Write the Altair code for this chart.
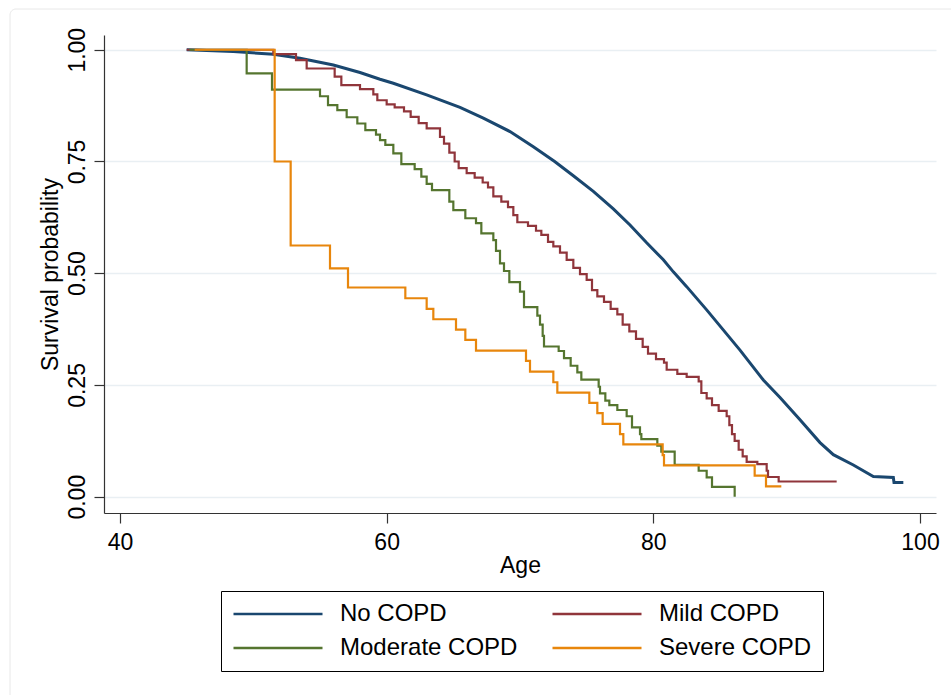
import altair as alt
import pandas as pd

# Kaplan-Meier survival by COPD severity
groups = ["No COPD", "Mild COPD", "Moderate COPD", "Severe COPD"]
colors = ["#1a476f", "#90353b", "#55752f", "#e8860c"]

# No COPD: many small steps, drawn as a smooth curve
no_age = [45.0, 48.5, 51.5, 53.5, 56.0, 58.0, 59.5, 60.5, 63.0, 65.5, 67.25,
          69.25, 71.0, 72.6, 74.0, 75.5, 77.0, 78.25, 79.5, 80.75, 81.5, 82.5,
          84.0, 86.5, 88.25, 89.5, 91.0, 92.5, 93.5, 95.0, 96.5, 98.0, 98.05, 98.75]
no_surv = [1.000, 0.996, 0.990, 0.981, 0.966, 0.949, 0.934, 0.925, 0.899, 0.871, 0.847,
           0.817, 0.783, 0.750, 0.718, 0.683, 0.644, 0.608, 0.568, 0.530, 0.503, 0.470,
           0.418, 0.328, 0.261, 0.222, 0.172, 0.121, 0.094, 0.071, 0.045, 0.043, 0.032, 0.032]

# Mild COPD step function
mild_age = [45.0, 51.5, 53.2, 54.0, 56.1, 56.6, 58.0, 59.0, 59.3, 60.0, 60.6,
            61.3, 61.8, 62.4, 63.0, 64.0, 64.3, 64.7, 65.1, 65.4, 66.0, 66.6,
            67.2, 67.6, 68.0, 68.6, 69.1, 69.5, 69.8, 70.6, 71.2, 71.6, 72.1,
            72.5, 73.0, 73.5, 74.0, 74.5, 75.0, 75.4, 75.8, 76.3, 76.8, 77.3,
            77.7, 78.2, 78.7, 79.2, 79.6, 80.2, 80.8, 81.0, 81.8, 82.5, 83.4,
            83.6, 84.0, 84.4, 84.9, 85.5, 85.7, 85.9, 86.1, 86.4, 86.7, 87.0,
            87.8, 88.5, 88.6, 89.4, 93.75]
mild_surv = [1.000, 0.990, 0.977, 0.958, 0.940, 0.921, 0.912, 0.900, 0.887, 0.878, 0.871,
             0.862, 0.850, 0.836, 0.824, 0.805, 0.790, 0.770, 0.750, 0.735, 0.724, 0.714,
             0.703, 0.692, 0.672, 0.660, 0.648, 0.630, 0.614, 0.606, 0.595, 0.586, 0.570,
             0.560, 0.546, 0.530, 0.512, 0.498, 0.485, 0.462, 0.448, 0.436, 0.420, 0.408,
             0.385, 0.370, 0.353, 0.335, 0.320, 0.308, 0.300, 0.284, 0.275, 0.268, 0.258,
             0.232, 0.220, 0.205, 0.192, 0.180, 0.160, 0.140, 0.125, 0.105, 0.090, 0.078,
             0.073, 0.058, 0.044, 0.034, 0.034]

# Moderate COPD step function
mod_age = [45.2, 49.5, 51.4, 55.0, 55.6, 56.3, 57.0, 57.8, 58.4, 59.2, 59.5,
           59.9, 60.5, 61.1, 62.1, 62.6, 63.0, 63.4, 64.7, 65.0, 65.9, 66.7,
           67.1, 68.0, 68.2, 68.5, 68.8, 69.2, 70.0, 70.3, 71.3, 71.5, 71.7,
           71.8, 72.9, 73.3, 73.8, 74.3, 74.6, 75.9, 76.0, 76.4, 76.7, 77.3,
           78.0, 78.4, 79.0, 79.1, 80.3, 80.6, 81.6, 83.4, 84.0, 84.4, 86.1]
mod_surv = [1.000, 0.947, 0.911, 0.896, 0.876, 0.865, 0.849, 0.835, 0.820, 0.810, 0.798,
            0.787, 0.768, 0.744, 0.733, 0.716, 0.700, 0.686, 0.660, 0.641, 0.623, 0.612,
            0.589, 0.574, 0.550, 0.522, 0.505, 0.480, 0.459, 0.424, 0.405, 0.385, 0.360,
            0.336, 0.326, 0.310, 0.293, 0.278, 0.262, 0.246, 0.231, 0.215, 0.205, 0.194,
            0.180, 0.155, 0.140, 0.129, 0.114, 0.101, 0.071, 0.058, 0.043, 0.022, 0.000]

# Severe COPD step function
sev_age = [45.6, 51.6, 52.8, 55.75, 57.1, 61.4, 63.0, 63.5, 65.2, 65.9, 66.7,
           70.45, 70.75, 72.5, 72.8, 75.2, 75.8, 76.2, 77.5, 77.75, 80.7, 80.8,
           87.6, 88.45, 89.6]
sev_surv = [1.000, 0.750, 0.562, 0.511, 0.468, 0.444, 0.420, 0.397, 0.374, 0.351, 0.327,
            0.304, 0.280, 0.256, 0.233, 0.210, 0.187, 0.163, 0.140, 0.117, 0.093, 0.070,
            0.047, 0.023, 0.023]

x_ticks = [40, 60, 80, 100]
y_ticks = [0, 0.25, 0.5, 0.75, 1.0]

FONT = "Liberation Sans"

smooth = pd.DataFrame({"age": no_age, "surv": no_surv, "group": groups[0]})
steps = pd.concat([
    pd.DataFrame({"age": mild_age, "surv": mild_surv, "group": groups[1]}),
    pd.DataFrame({"age": mod_age, "surv": mod_surv, "group": groups[2]}),
    pd.DataFrame({"age": sev_age, "surv": sev_surv, "group": groups[3]}),
], ignore_index=True)

x_enc = alt.X(
    "age:Q",
    title="Age",
    scale=alt.Scale(domain=[38.8, 101.2], nice=False, zero=False),
    axis=alt.Axis(values=x_ticks, grid=False, tickSize=10, labelPadding=8,
                  titlePadding=0, labelFlush=False),
)
y_enc = alt.Y(
    "surv:Q",
    title="Survival probability",
    scale=alt.Scale(domain=[-0.0365, 1.033], nice=False, zero=False),
    axis=alt.Axis(values=y_ticks, format=".2f", grid=True, gridColor="#e9eff3",
                  gridWidth=1.5, tickSize=10, labelAngle=270, labelAlign="center",
                  labelBaseline="alphabetic", labelPadding=10, titlePadding=4,
                  labelFlush=False),
)
color_enc = alt.Color(
    "group:N",
    sort=groups,
    scale=alt.Scale(domain=groups, range=colors),
    title=None,
    legend=alt.Legend(
        orient="none", legendX=117, legendY=556, columns=2, direction="horizontal",
        symbolType="stroke", symbolSize=7921, symbolStrokeWidth=2.5,
        clipHeight=24, labelFontSize=24, labelFont=FONT, labelColor="black",
        labelLimit=500, labelOffset=16, columnPadding=33, rowPadding=10, padding=11,
        strokeColor="black", symbolOpacity=1,
    ),
)

frame = alt.Chart(pd.DataFrame({"k": [0]})).mark_rect(
    fillOpacity=0, stroke="#e8e8e8", strokeWidth=1, cornerRadius=6
).encode(
    x=alt.value(-94), x2=alt.value(860), y=alt.value(-26), y2=alt.value(680)
)

no_line = alt.Chart(smooth).mark_line(strokeWidth=3, interpolate="linear").encode(
    x=x_enc, y=y_enc, color=color_enc
)
step_lines = alt.Chart(steps).mark_line(strokeWidth=2.2, interpolate="step-after").encode(
    x=x_enc, y=y_enc, color=color_enc
)

chart = alt.layer(frame, no_line, step_lines).properties(
    width=832, height=478,
    autosize=alt.AutoSizeParams(type="none"),
    padding={"left": 104, "top": 35, "right": 15, "bottom": 182},
    background="white",
).configure_view(strokeWidth=0).configure_axis(
    labelFont=FONT, titleFont=FONT, labelFontSize=23, titleFontSize=23,
    labelColor="black", titleColor="black", titleFontWeight="normal",
    domainColor="#333333", tickColor="#333333", domainWidth=1.2, tickWidth=1.2,
)

chart.save("out.html", embed_options={"renderer": "svg", "actions": False})
